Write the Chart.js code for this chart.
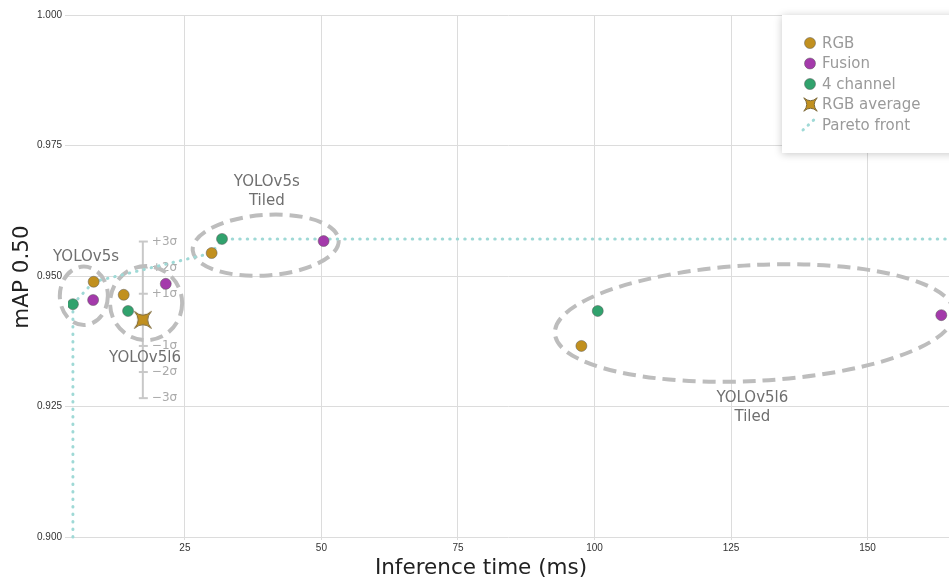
<!DOCTYPE html>
<html>
<head>
<meta charset="utf-8">
<script src="https://cdn.jsdelivr.net/npm/chart.js@4.4.0/dist/chart.umd.min.js"></script>
<style>
  html, body { margin: 0; padding: 0; background: #fff; overflow: hidden; }
  #wrap { width: 949px; height: 583px; overflow: hidden; }
</style>
</head>
<body>
<div id="wrap"><canvas id="myChart" width="956" height="583"></canvas></div>
<script>
// model results: inference time (ms) and mAP 0.50
var rgbTime = [8.3, 13.8, 29.9, 97.6]
var rgbMap = [0.9489, 0.9464, 0.9544, 0.9366]
var fusionTime = [8.2, 21.5, 50.4, 163.5]
var fusionMap = [0.9454, 0.9485, 0.9567, 0.9425]
var fourChTime = [4.5, 14.6, 31.8, 100.6]
var fourChMap = [0.9446, 0.9433, 0.9571, 0.9433]

// RGB average with spread
var rgbAvgTime = [17.3]
var rgbAvgMap = [0.9416]
var rgbSigma = 0.005
var sigmaLevels = [3, 2, 1, -1, -2, -3]
var sigmaLabels = ["+3σ", "+2σ", "+1σ", "−1σ", "−2σ", "−3σ"]

// pareto front
var paretoTime = [4.5, 4.5, 8.3, 29.9, 31.8, 165]
var paretoMap = [0.900, 0.9446, 0.9489, 0.9544, 0.9571, 0.9571]

// model groups (ellipses in data units)
var groupNames = [["YOLOv5s"], ["YOLOv5l6"], ["YOLOv5s", "Tiled"], ["YOLOv5l6", "Tiled"]]
var groupTime = [6.5, 17.9, 39.8, 129.3]
var groupMap = [0.9462, 0.9448, 0.9559, 0.9410]
var groupHalfTime = [4.4, 6.6, 13.4, 36.6]
var groupHalfMap = [0.0056, 0.0071, 0.0058, 0.0111]
var groupTilt = [0, 0, -4, -3]
var groupLabelTime = [6.9, 17.7, 40.0, 128.9]
var groupLabelMap = [0.9536, 0.9343, 0.9680, 0.9266]

var xTicks = [25, 50, 75, 100, 125, 150]
var yTicks = [0.900, 0.925, 0.950, 0.975, 1.000]

var gold = "#c1901f"
var purple = "#a43aab"
var green = "#31a26d"
var paretoColor = "#9fd9d6"
var ringColor = "#bdbdbd"

function toPoints(xs, ys) {
    var pts = []
    for (i = 0; i < xs.length; i++) {
        pts.push({ x: xs[i], y: ys[i] })
    }
    return pts
}

// four point star, tips on the diagonals, curved-in sides
function makeStar(size, fill, stroke) {
    var c = document.createElement("canvas")
    c.width = size
    c.height = size
    var g = c.getContext("2d")
    var m = size / 2, r = size / 2 - 1
    var tips = []
    for (j = 0; j < 4; j++) {
        var a = Math.PI / 4 + j * Math.PI / 2
        tips.push([m + r * Math.cos(a), m + r * Math.sin(a)])
    }
    var k = 0.12
    g.beginPath()
    g.moveTo(tips[0][0], tips[0][1])
    for (j = 1; j <= 4; j++) {
        var p = tips[j - 1], t = tips[j % 4]
        var mx = (p[0] + t[0]) / 2, my = (p[1] + t[1]) / 2
        g.quadraticCurveTo(m + (mx - m) * k, m + (my - m) * k, t[0], t[1])
    }
    g.closePath()
    g.fillStyle = fill
    g.fill()
    g.lineWidth = 1
    g.strokeStyle = stroke
    g.stroke()
    return c
}

var starBig = makeStar(26, gold, "#7d6a3c")
var starSmall = makeStar(21, gold, "#7d6a3c")

var overlay = {
    id: "overlay",
    beforeDatasetsDraw: function (chart) {
        var ctx = chart.ctx
        var x = chart.scales.x, y = chart.scales.y
        ctx.save()

        // sigma bar
        var bx = x.getPixelForValue(rgbAvgTime[0])
        var top = y.getPixelForValue(rgbAvgMap[0] + 3 * rgbSigma)
        var bot = y.getPixelForValue(rgbAvgMap[0] - 3 * rgbSigma)
        ctx.strokeStyle = "#c8c8c8"
        ctx.lineWidth = 2
        ctx.beginPath()
        ctx.moveTo(bx, top)
        ctx.lineTo(bx, bot)
        ctx.stroke()
        ctx.font = "12px 'DejaVu Sans'"
        ctx.fillStyle = "#aaaaaa"
        ctx.textBaseline = "middle"
        ctx.textAlign = "left"
        for (i = 0; i < sigmaLevels.length; i++) {
            var sy = y.getPixelForValue(rgbAvgMap[0] + sigmaLevels[i] * rgbSigma)
            ctx.beginPath()
            ctx.moveTo(bx - 4, sy)
            ctx.lineTo(bx + 5, sy)
            ctx.stroke()
            ctx.fillText(sigmaLabels[i], bx + 9, sy)
        }

        // group rings
        ctx.strokeStyle = ringColor
        ctx.lineWidth = 4
        ctx.setLineDash([13, 7])
        for (i = 0; i < groupNames.length; i++) {
            var cx = x.getPixelForValue(groupTime[i])
            var cy = y.getPixelForValue(groupMap[i])
            var rx = Math.abs(x.getPixelForValue(groupTime[i] + groupHalfTime[i]) - cx)
            var ry = Math.abs(y.getPixelForValue(groupMap[i] + groupHalfMap[i]) - cy)
            ctx.beginPath()
            ctx.ellipse(cx, cy, rx, ry, groupTilt[i] * Math.PI / 180, 0, Math.PI * 2)
            ctx.stroke()
        }
        ctx.setLineDash([])

        // group names
        ctx.font = "15px 'DejaVu Sans'"
        ctx.fillStyle = "#6f6f6f"
        ctx.textAlign = "center"
        for (i = 0; i < groupNames.length; i++) {
            var lx = x.getPixelForValue(groupLabelTime[i])
            var ly = y.getPixelForValue(groupLabelMap[i])
            for (j = 0; j < groupNames[i].length; j++) {
                ctx.fillText(groupNames[i][j], lx, ly + j * 19)
            }
        }
        ctx.restore()
    },
    afterDraw: function (chart) {
        var ctx = chart.ctx
        ctx.save()

        // axis titles
        ctx.fillStyle = "#222"
        ctx.font = "21.5px 'DejaVu Sans'"
        ctx.textAlign = "center"
        ctx.textBaseline = "middle"
        ctx.fillText("Inference time (ms)", 481, 568)
        ctx.translate(22, 277)
        ctx.rotate(-Math.PI / 2)
        ctx.fillText("mAP 0.50", 0, 0)
        ctx.setTransform(1, 0, 0, 1, 0, 0)

        // legend box
        ctx.shadowColor = "rgba(0,0,0,0.22)"
        ctx.shadowBlur = 8
        ctx.shadowOffsetX = 0
        ctx.shadowOffsetY = 1
        ctx.fillStyle = "#fff"
        ctx.fillRect(782, 15, 200, 138)
        ctx.shadowColor = "transparent"

        var rows = [43, 63.5, 84, 104.5, 125]
        var ds = chart.data.datasets
        ctx.font = "15px 'DejaVu Sans'"
        ctx.textAlign = "left"
        for (i = 0; i < rows.length; i++) {
            var d = ds[i]
            if (i < 3) {
                ctx.beginPath()
                ctx.arc(810, rows[i], 5.5, 0, Math.PI * 2)
                ctx.fillStyle = d.backgroundColor
                ctx.fill()
                ctx.lineWidth = 1
                ctx.strokeStyle = "rgba(90,90,90,0.5)"
                ctx.stroke()
            } else if (i == 3) {
                ctx.drawImage(starSmall, 800, rows[i] - 10.5)
            } else {
                ctx.strokeStyle = paretoColor
                ctx.lineWidth = 3
                ctx.lineCap = "round"
                ctx.setLineDash([0.5, 6.5])
                ctx.beginPath()
                ctx.moveTo(803, rows[i] + 5)
                ctx.lineTo(817, rows[i] - 8)
                ctx.stroke()
                ctx.setLineDash([])
            }
            ctx.fillStyle = "#9a9a9a"
            ctx.fillText(d.label, 822, rows[i] + 1)
        }
        ctx.restore()
    }
}

var pointStyleOpts = { pointRadius: 5.5, pointBorderWidth: 1, pointBorderColor: "rgba(90,90,90,0.5)", showLine: false }

new Chart("myChart", {
    type: "scatter",
    data: {
        datasets: [
            Object.assign({ label: "RGB", data: toPoints(rgbTime, rgbMap), backgroundColor: gold, order: 1 }, pointStyleOpts),
            Object.assign({ label: "Fusion", data: toPoints(fusionTime, fusionMap), backgroundColor: purple, order: 1 }, pointStyleOpts),
            Object.assign({ label: "4 channel", data: toPoints(fourChTime, fourChMap), backgroundColor: green, order: 1 }, pointStyleOpts),
            { label: "RGB average", data: toPoints(rgbAvgTime, rgbAvgMap), pointStyle: starBig, backgroundColor: gold, order: 0 },
            {
                label: "Pareto front", data: toPoints(paretoTime, paretoMap), showLine: true, pointRadius: 0,
                borderColor: paretoColor, borderWidth: 3, borderDash: [0.5, 7], borderCapStyle: "round",
                backgroundColor: paretoColor, order: 5, clip: false
            }
        ]
    },
    options: {
        responsive: false,
        animation: false,
        devicePixelRatio: 1,
        layout: { padding: { top: 15, right: 0, left: 0, bottom: 0 } },
        plugins: { legend: { display: false }, tooltip: { enabled: false } },
        scales: {
            x: {
                type: "linear", min: 3.6, max: 165,
                afterFit: function (s) { s.height = 46 },
                afterBuildTicks: function (s) { s.ticks = xTicks.map(function (v) { return { value: v } }) },
                ticks: { font: { family: "'Liberation Sans'", size: 10 }, color: "#333", padding: 2 },
                grid: { color: "#dcdcdc", tickLength: 3 },
                border: { display: false },
                title: { display: false }
            },
            y: {
                min: 0.9, max: 1.0,
                afterFit: function (s) { s.width = 68 },
                afterBuildTicks: function (s) { s.ticks = yTicks.map(function (v) { return { value: v } }) },
                ticks: { font: { family: "'Liberation Sans'", size: 10 }, color: "#333", padding: 3, callback: function (v) { return v.toFixed(3) } },
                grid: { color: "#dcdcdc", tickLength: 3 },
                border: { display: false },
                title: { display: false }
            }
        }
    },
    plugins: [overlay]
});
</script>
</body>
</html>
